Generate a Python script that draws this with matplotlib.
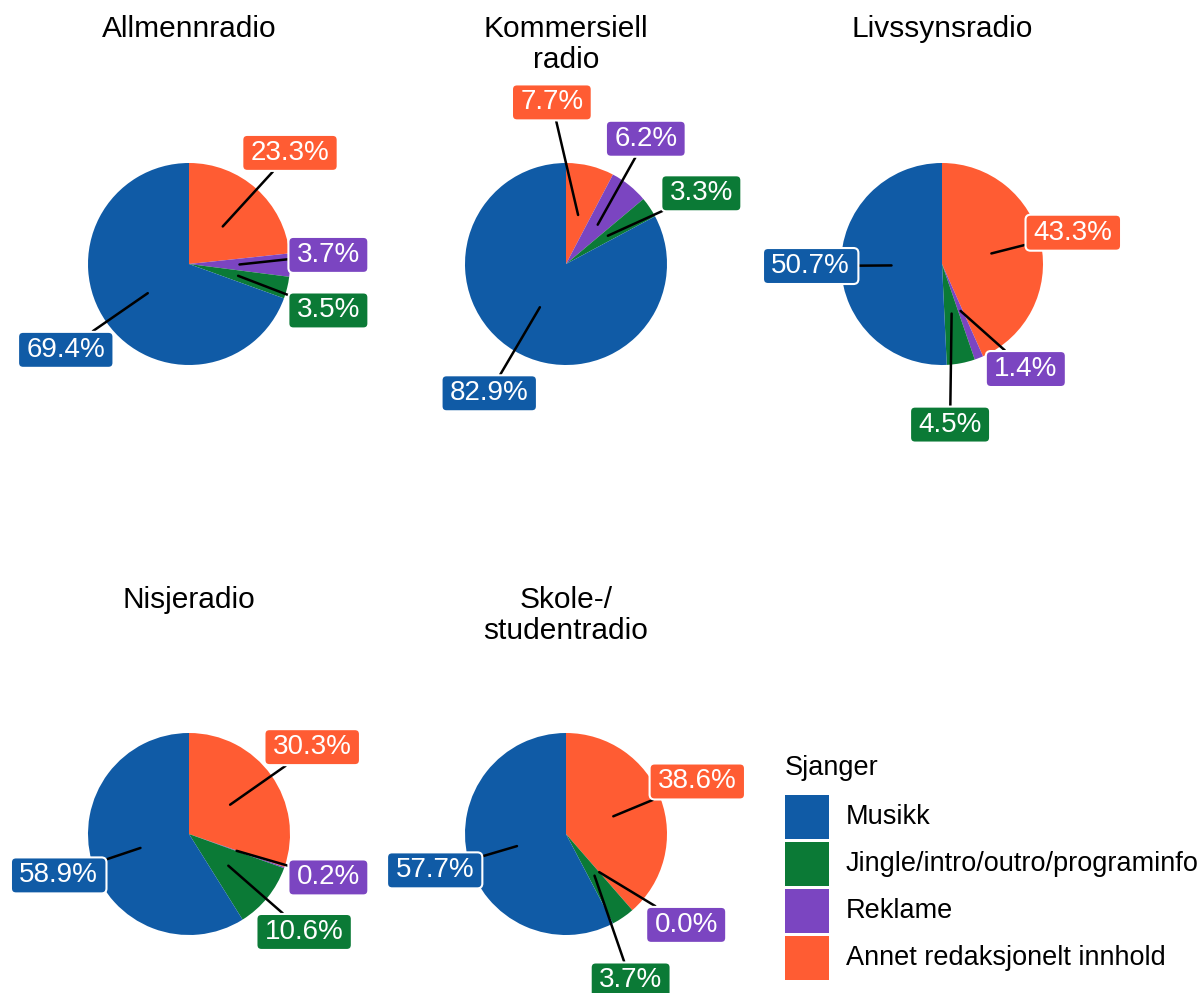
import numpy as np
import matplotlib.pyplot as plt
from matplotlib.patches import Rectangle, BoxStyle

plt.rcParams['font.family'] = ['Liberation Sans', 'DejaVu Sans']

# genres, in clockwise order from 12 o'clock
genres = ['Annet redaksjonelt innhold', 'Reklame', 'Jingle/intro/outro/programinfo', 'Musikk']
legend_order = ['Musikk', 'Jingle/intro/outro/programinfo', 'Reklame', 'Annet redaksjonelt innhold']
colors = {
    'Musikk': '#105BA6',
    'Jingle/intro/outro/programinfo': '#0B7A36',
    'Reklame': '#7B45C1',
    'Annet redaksjonelt innhold': '#FF5C33',
}

stations = ['Allmennradio', 'Kommersiell\nradio', 'Livssynsradio', 'Nisjeradio', 'Skole-/\nstudentradio']

# shares (%) per station, same order as genres
allmenn = [23.3, 3.7, 3.5, 69.4]
kommersiell = [7.7, 6.2, 3.3, 82.9]
livssyn = [43.3, 1.4, 4.5, 50.7]
nisje = [30.3, 0.2, 10.6, 58.9]
skole = [38.6, 0.0, 3.7, 57.7]
shares = [allmenn, kommersiell, livssyn, nisje, skole]

# pie centres in pixels, radius in pixels
centres = [(189, 264), (566, 264), (942, 264), (189, 834), (566, 834)]
R = 101
W, H = 1202, 993

# repelled label positions (units of pie radius), order as genres
label_pos = [
    [(1.00, 1.10), (1.38, 0.09), (1.38, -0.46), (-1.22, -0.85)],
    [(-0.14, 1.60), (0.79, 1.24), (1.34, 0.70), (-0.76, -1.28)],
    [(1.30, 0.31), (0.83, -1.04), (0.08, -1.59), (-1.30, -0.02)],
    [(1.22, 0.86), (1.38, -0.43), (1.14, -0.97), (-1.29, -0.41)],
    [(1.30, 0.52), (1.19, -0.90), (0.64, -1.45), (-1.30, -0.36)],
]


def label_box(x0, y0, width, height, mutation_size):
    # rounded box, wider padding left/right than top/bottom
    padx, pady = 0.3 * mutation_size, 0.18 * mutation_size
    return BoxStyle.Round(pad=0, rounding_size=0.18)(
        x0 - padx, y0 - pady, width + 2 * padx, height + 2 * pady, mutation_size)


fig = plt.figure(figsize=(W / 100, H / 100), dpi=100)

half = 185
for name, vals, (cx, cy), lpos in zip(stations, shares, centres, label_pos):
    ax = fig.add_axes([(cx - half) / W, (H - cy - half) / H, 2 * half / W, 2 * half / H])
    ax.pie(vals, colors=[colors[g] for g in genres], startangle=90, counterclock=False,
           radius=1, wedgeprops=dict(linewidth=0))
    ax.set_xlim(-half / R, half / R)
    ax.set_ylim(-half / R, half / R)
    ax.set_aspect('auto')
    ax.axis('off')

    # label each slice from a point halfway out along its mid angle
    cum = np.cumsum([0] + vals)
    for i, g in enumerate(genres):
        mid = (cum[i] + cum[i + 1]) / 2 / 100 * 2 * np.pi
        px, py = 0.5 * np.sin(mid), 0.5 * np.cos(mid)
        ax.annotate(f'{vals[i]:.1f}%', xy=(px, py), xytext=lpos[i],
                    ha='center', va='center', color='white', fontsize=20,
                    bbox=dict(boxstyle=label_box, fc=colors[g], ec='white', lw=1.5),
                    arrowprops=dict(arrowstyle='-', color='black', lw=1.8, shrinkA=0, shrinkB=0),
                    annotation_clip=False, zorder=5)

    base = 37 if cy < 500 else 608
    for k, line in enumerate(name.split('\n')):
        fig.text(cx / W, 1 - (base + 31 * k) / H, line, ha='center', va='baseline', fontsize=21.5)

# legend
fig.text(785 / W, 1 - 775 / H, 'Sjanger', ha='left', va='baseline', fontsize=19.5)
for k, g in enumerate(legend_order):
    top = 795 + 47 * k
    fig.patches.append(Rectangle((785 / W, 1 - (top + 44) / H), 44 / W, 44 / H,
                                 transform=fig.transFigure, fc=colors[g], ec='none'))
    fig.text(846 / W, 1 - (top + 22) / H, g, ha='left', va='center', fontsize=19.5)

fig.savefig('out.png', dpi=100)
